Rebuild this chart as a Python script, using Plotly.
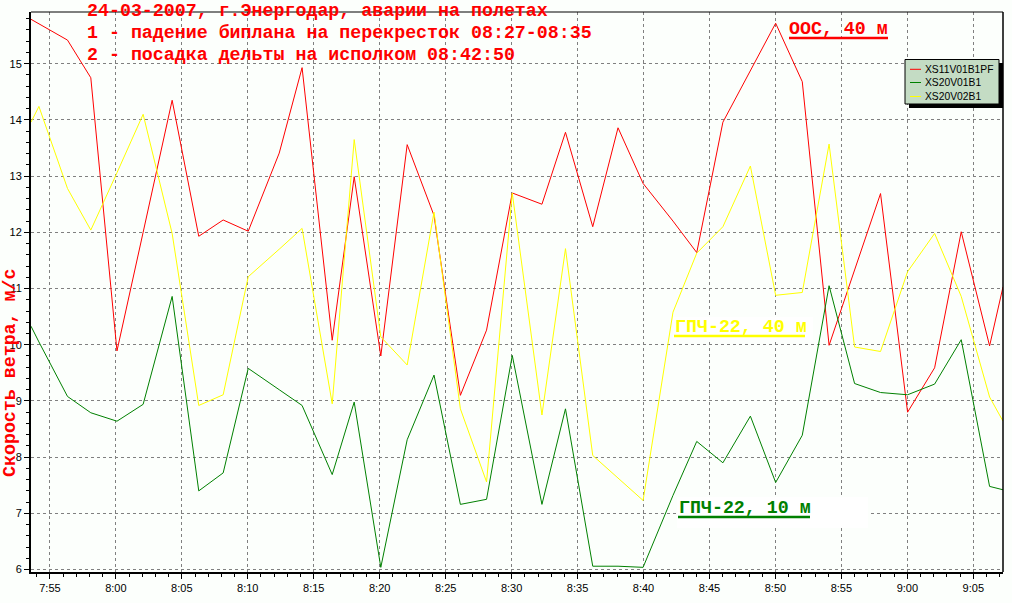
import plotly.graph_objects as go

# ---------------- data ----------------
times = [
    "07:53:34", "07:54:10", "07:56:20", "07:58:06", "08:00:05", "08:02:04",
    "08:04:16", "08:06:17", "08:08:08", "08:10:02", "08:12:23", "08:14:07",
    "08:16:24", "08:18:04", "08:20:05", "08:22:05", "08:24:07", "08:26:07",
    "08:28:06", "08:30:03", "08:32:18", "08:34:05", "08:36:09", "08:38:04",
    "08:39:58", "08:42:14", "08:44:02", "08:46:01", "08:48:06", "08:50:01",
    "08:52:02", "08:54:04", "08:56:00", "08:57:58", "09:00:01", "09:02:04",
    "09:04:05", "09:06:14", "09:07:15",
]
xs11v01b1pf = [
    15.79, 15.71, 15.42, 14.75, 9.89, 12.00, 14.35, 11.93, 12.22, 12.02,
    13.41, 14.93, 10.08, 12.99, 9.80, 13.56, 12.30, 9.10, 10.26, 12.70,
    12.50, 13.78, 12.10, 13.86, 12.87, 12.20, 11.64, 13.96, 14.88, 15.72,
    14.68, 9.99, 11.33, 12.69, 8.80, 9.59, 12.01, 9.98, 11.03,
]
xs20v01b1 = [
    10.33, 10.05, 9.08, 8.79, 8.64, 8.94, 10.86, 7.40, 7.72, 9.58,
    9.20, 8.92, 7.69, 8.98, 6.04, 8.31, 9.46, 7.16, 7.25, 9.81,
    7.16, 8.86, 6.06, 6.06, 6.04, 7.32, 8.28, 7.90, 8.73, 7.55,
    8.39, 11.05, 9.31, 9.15, 9.11, 9.30, 10.09, 7.48, 7.42,
]
xs20v02b1 = [
    13.96, 14.24, 12.78, 12.04, 13.06, 14.10, 11.98, 8.92, 9.11, 11.21,
    11.70, 12.07, 8.95, 13.65, 10.14, 9.64, 12.36, 8.86, 7.56, 12.70,
    8.75, 11.71, 8.03, 7.63, 7.23, 10.58, 11.63, 12.10, 13.18, 10.88,
    10.93, 13.57, 9.96, 9.88, 11.30, 11.98, 10.86, 9.07, 8.64,
]
series_names = ["XS11V01B1PF", "XS20V01B1", "XS20V02B1"]
series_colors = ["#FF0000", "#008000", "#FFFF00"]
date = "2007-03-24 "
x_range = [date + "07:53:34", date + "09:07:15"]
y_range = [5.957, 15.92]

title_lines = [
    "24-03-2007, г.Энергодар, аварии на полетах",
    "1 - падение биплана на перекресток 08:27-08:35",
    "2 - посадка дельты на исполком 08:42:50",
]
y_title = "Скорость ветра, м/с"
label_red = "ООС, 40 м"
label_yellow = "ГПЧ-22, 40 м"
label_green = "ГПЧ-22, 10 м"

# ---------------- layout helpers (pixel -> paper) ----------------
W, H = 1012, 603
L, R, T, B = 31, 1003, 12, 572


def px(x):
    return (x - L) / (R - L)


def py(y):
    return (B - y) / (B - T)


BG = "#FCFFFC"
MONO = "Liberation Mono, Courier New, monospace"
SANS = "Liberation Sans, Arial, sans-serif"
FS = 18.3

x_vals = [date + t for t in times]

fig = go.Figure()
for name, vals, col in zip(series_names, [xs11v01b1pf, xs20v01b1, xs20v02b1], series_colors):
    fig.add_trace(go.Scatter(
        x=x_vals, y=vals, mode="lines", name=name,
        line=dict(color=col, width=1), showlegend=False,
    ))

annotations = []
for i, line in enumerate(title_lines):
    annotations.append(dict(
        text="<b>" + line + "</b>", xref="paper", yref="paper",
        x=px(85), y=py(11.5 + 22 * i), xanchor="left", yanchor="middle",
        showarrow=False, font=dict(family=MONO, size=FS, color="#FF0000"),
    ))

annotations.append(dict(
    text="<b>" + y_title + "</b>", xref="paper", yref="paper",
    x=px(10), y=py(373), xanchor="center", yanchor="middle", textangle=-90,
    showarrow=False, font=dict(family=MONO, size=FS, color="#FF0000"),
))

labels = [
    (label_red, "#FF0000", 787, 28.5),
    (label_yellow, "#FFFF00", 673, 326.5),
    (label_green, "#008000", 677, 507.5),
]
for text, col, lx, ly in labels:
    annotations.append(dict(
        text="<b>" + text + "</b>", xref="paper", yref="paper",
        x=px(lx), y=py(ly), xanchor="left", yanchor="middle",
        showarrow=False, font=dict(family=MONO, size=FS, color=col),
    ))

# legend text
leg_y = [69.3, 82.5, 96.5]
for name, yy in zip(series_names, leg_y):
    annotations.append(dict(
        text=name, xref="paper", yref="paper", x=px(923), y=py(yy),
        xanchor="left", yanchor="middle", showarrow=False,
        font=dict(family=SANS, size=10.3, color="#000000"),
    ))

shapes = []
# white background boxes behind the station labels
shapes.append(dict(type="rect", xref="paper", yref="paper", layer="above",
                   x0=px(673), x1=px(813), y0=py(340), y1=py(317),
                   fillcolor="#FFFFFF", line=dict(width=0)))
shapes.append(dict(type="rect", xref="paper", yref="paper", layer="above",
                   x0=px(677), x1=px(868), y0=py(528), y1=py(497),
                   fillcolor="#FFFFFF", line=dict(width=0)))
# underlines
for (x0, x1, yy, col) in [(789, 888, 38, "#FF0000"), (674, 805, 336, "#FFFF00"), (678, 810, 517, "#008000")]:
    shapes.append(dict(type="line", xref="paper", yref="paper", layer="above",
                       x0=px(x0), x1=px(x1), y0=py(yy), y1=py(yy),
                       line=dict(color=col, width=2.5)))
# top and right frame
shapes.append(dict(type="line", xref="paper", yref="paper", layer="above",
                   x0=0, x1=1, y0=1, y1=1, line=dict(color="#000000", width=1)))
shapes.append(dict(type="line", xref="paper", yref="paper", layer="above",
                   x0=1, x1=1, y0=0, y1=1, line=dict(color="#000000", width=1.5)))
# legend shadow + box
shapes.append(dict(type="rect", xref="paper", yref="paper", layer="above",
                   x0=px(909), x1=px(1003), y0=py(108), y1=py(63),
                   fillcolor="#000000", line=dict(width=0)))
shapes.append(dict(type="rect", xref="paper", yref="paper", layer="above",
                   x0=px(905), x1=px(999), y0=py(104), y1=py(59.5),
                   fillcolor="#C4DCC4", line=dict(color="#000000", width=1)))
for col, yy in zip(series_colors, leg_y):
    shapes.append(dict(type="line", xref="paper", yref="paper", layer="above",
                       x0=px(910), x1=px(921), y0=py(yy), y1=py(yy),
                       line=dict(color=col, width=1)))

fig.update_layout(
    width=W, height=H,
    margin=dict(l=L, r=W - R, t=T, b=H - B, pad=0),
    paper_bgcolor=BG, plot_bgcolor=BG,
    showlegend=False,
    annotations=annotations, shapes=shapes,
    xaxis=dict(
        type="date", range=x_range, dtick=300000, tick0=date + "07:55:00",
        tickformat="%-H:%M", showgrid=True, gridcolor="#808080", gridwidth=1,
        griddash="3px,3px", showline=True, linecolor="#000000", linewidth=2,
        ticks="outside", ticklen=5, tickcolor="#000000", tickwidth=1,
        minor=dict(dtick=60000, ticks="outside", ticklen=3, tickcolor="#000000", showgrid=False),
        tickfont=dict(family=SANS, size=11, color="#000000"),
        zeroline=False, fixedrange=True,
    ),
    yaxis=dict(
        range=y_range, dtick=1, tick0=0, showgrid=True, gridcolor="#808080",
        gridwidth=1, griddash="3px,3px", showline=True, linecolor="#000000",
        linewidth=2, ticks="outside", ticklen=5, tickcolor="#000000", tickwidth=1,
        minor=dict(dtick=0.2, ticks="outside", ticklen=3, tickcolor="#000000", showgrid=False),
        tickfont=dict(family=SANS, size=11, color="#000000"),
        zeroline=False, fixedrange=True,
    ),
)

fig.write_html(
    "out.html",
    config={"displayModeBar": False},
    post_script="document.body.style.margin='0';document.body.style.background='" + BG + "';",
)
